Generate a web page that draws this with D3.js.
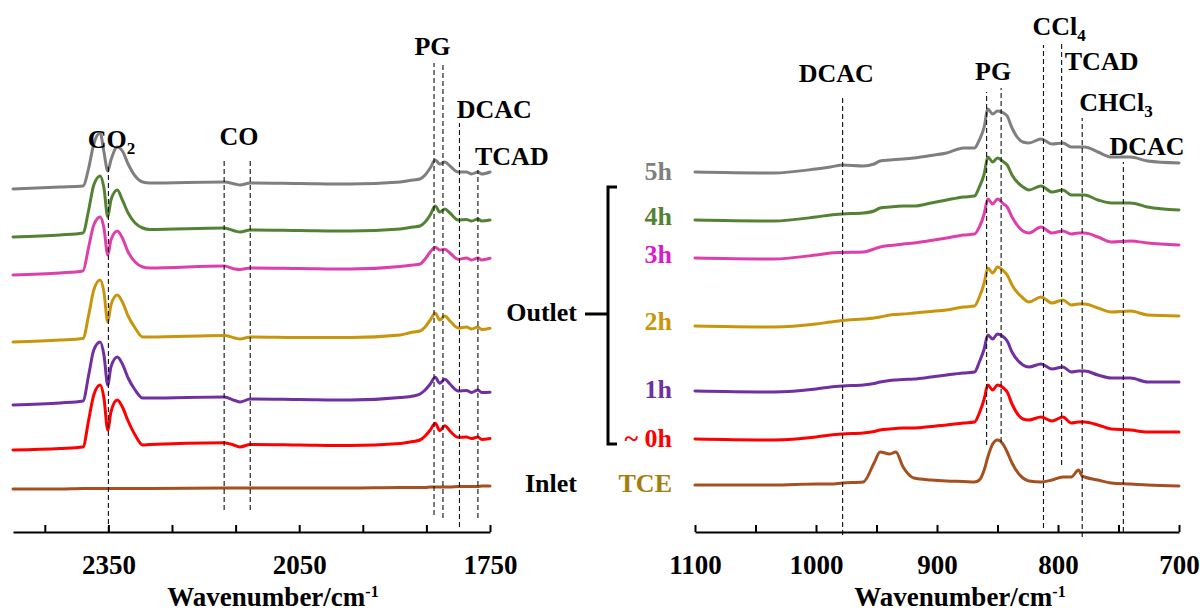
<!DOCTYPE html>
<html><head><meta charset="utf-8">
<script src="https://cdn.jsdelivr.net/npm/d3@7"></script>
<style>
body{margin:0;background:#fff}
svg{display:block}
text{font-family:"Times New Roman","Liberation Serif",serif;font-weight:bold}
</style>
</head><body>
<svg id="chart" width="1200" height="612"></svg>
<script>
// ---------- DATA ----------
// Left panel (2500–1750 cm-1), absorbance with stacking offsets (a.u.)
const leftWn = [2500,2426,2390,2381,2373,2363,2357,2351,2346,2336,2328,2319,2308,2296,2285,2168,2151,2143,2127,2049,1970,1891,1871,1860,1852,1844,1836,1829,1821,1813,1800,1787,1779,1769,1763,1750];
const left5h = [343,345,346,364,388,399,380,361,372,385,381,368,356,350,349,350,348,347,349,348.5,348,350,352,353,357,364,372,368,370,366,360,360,358,360,358,360];
const left4h = [295,297,299,322,347,356,344,315,332,342,332,319,309,304,302.5,304,301,300,302,301.5,301,303,305,306,310,317,326,320,323,319,312,312.5,311,313,311,312];
const left3h = [257,259,261,285,307,315,304,277,292,301,294,280,270,265,264,266,263,262.5,264,263.5,263,265.5,267,268,273,280,284.7,282,282.7,279,272.7,274,272,274,272,273.7];
const left2h = [190,192,193.5,217,242,252,240,210,227,237,230,216,204,195,195,196.5,194,193,195,194.5,194.5,197,200,201,205,212,218.7,212,216,211,204,205,203,205,202.5,203.7];
const left1h = [127,129,131,157,182,190,177,147,165,175,168,154,142,134,134,135,131.5,130,133,132.5,132,134.5,136,138,142,148,154.7,148.7,152.7,148,141,141.5,139.5,142,139.5,139.7];
const left0h = [82,83.5,85,112,137,147,134,102,120,132,125,111,97,87,87.5,89.3,86.5,85,87.5,87,86.5,88.5,90.5,92,96,102,108.7,101.3,106.3,101,94.7,95,93.5,95,92.5,93.5];
const leftInlet = [43,43,43.5,43.5,43.5,43.5,43.5,43.5,43.5,43.5,43.5,43.5,43.5,43.5,43.5,44,44,44,44,44,44,44.5,44.5,44.5,44.5,45,45,45,45,45,45.5,45.5,45.5,45.5,46,46];

// Right panel (1100–700 cm-1)
const rightWn = [1100,1035,1000,988,978,961,952,947,939,934,928,919,905,892,878,869,865,861,858,854,850,845,842,838,829,824,814,805,796,789,783,780,778,767,756,740,726,700];
const right5h = [360,359,363,365,367,366,368,371,372,372.5,373,374,376.5,379,384,384,392,405,423,418,421,419,416,404,390,389,393,388,389,385,385,385,385,380,375,375,371,369];
const right4h = [312,311,315,317,318,319,321,324,325,325.5,326,326,329,332,335,336,345,358,375,370,374,370,367,357,345,342,346,340,342,337,337,337,337,332,329,329,325,322];
const right3h = [274,273,277,279,279.5,280,283,285,286.5,287,288,289,291.5,294,297,298,305,318,333,328,333,328,325,315,301,299,305,299,301,298,299,299,299,295,290,291,289,287];
const right2h = [206,205,208,210,211.5,213,214,215,217,217.5,218,219,220.5,222,225,226,235,249,264,259,265,261,257,247,234,230,235,229,232,227,228,228,228,224,220,221,217,216];
const right1h = [141,140,143,145,146,147,148.5,150,151.5,152,152.5,153,155,157,159,160,170,183,197,193,198,195,191,180,167,165,168,163,165,160,161,161,161,157,154,154,150,150];
const right0h = [93,92,95,97,98,99,100.5,102,103,103.5,104,104,105.5,107,109,110,119,133,147,142,147,144,140,128,113,112,115,111,115,109,110,110,110,107,103,102,100,100];
const rightTCE = [47,47,48,48,49,50,69,80,78,80,65,54,52,51,50.5,50,52,62,75,88,92,87,80,69,54,51,50,52,55,55,62,56,55,52,49,48,47,46];

// Series names / colours
const seriesNames = ["5h","4h","3h","2h","1h","~ 0h","TCE"];
const lineColors  = ["#7f7f7f","#548235","#de3fab","#c8960c","#7030a0","#ff0000","#a5501e"];
const labelColors = ["#7f7f7f","#548235","#d81ccc","#c8960c","#7030a0","#ff0000","#a67c0c"];
const labelLevels = [352,307,269,202,134,85,40];   // label baselines (a.u.)

// Axis ticks
const leftTicks = [2450,2350,2250,2150,2050,1950,1850,1750];
const leftTickLabels = [2350,2050,1750];
const rightTicks = [1100,1050,1000,950,900,850,800,750,700];
const rightTickLabels = [1100,1000,900,800,700];

// Band marker lines: [wavenumber, from, to] in a.u.
const leftMarkers = [[2350,0,367],[2168,22,372],[2127,22,372],[1838,17,469],[1824,14,469],[1798,5,409],[1769,14,362]];
const rightMarkers = [[978,-3,434],[859,87,440],[847,90,444],[812,4,487],[797,67,490],[780,-5,414],[746,0,370]];

// Band annotations: [text, subscript, wavenumber, level, anchor]
const leftNotes = [["CO","2",2382.6,384,"start"],["CO","",2144.7,387,"middle"],["PG","",1840.4,477,"middle"],["DCAC","",1802.4,414,"start"],["TCAD","",1773.6,367,"start"]];
const rightNotes = [["DCAC","",983.2,450,"middle"],["PG","",853.6,452.5,"middle"],["CCl","4",821.1,497,"start"],["TCAD","",794.4,462,"start"],["CHCl","3",782.4,421.5,"start"],["DCAC","",757.5,377,"start"]];

// ---------- DRAW ----------
const svg = d3.select("#chart");
const y = d3.scaleLinear().domain([0,520]).range([532,12]);
const xL = d3.scaleLinear().domain([2500,1750]).range([13,490]);
const xR = d3.scaleLinear().domain([1100,700]).range([695,1179]);

function drawPanel(x, wn, seriesList, colors, markers, notes, ticks, tickLabels, titleX) {
  const g = svg.append("g");
  const line = d3.line().x(d=>x(d[0])).y(d=>y(d[1])).curve(d3.curveMonotoneX);
  seriesList.forEach((vals,i)=>{
    g.append("path").attr("d", line(d3.zip(wn, vals)))
      .attr("fill","none").attr("stroke",colors[i]).attr("stroke-width",3)
      .attr("stroke-linejoin","round").attr("stroke-linecap","round");
  });
  markers.forEach(m=>{
    g.append("line").attr("x1",x(m[0])).attr("x2",x(m[0]))
      .attr("y1",y(m[1])).attr("y2",y(m[2]))
      .attr("stroke","#111").attr("stroke-width",1.1).attr("stroke-dasharray","5,3");
  });
  notes.forEach(n=>{
    const t = g.append("text").attr("x",x(n[2])).attr("y",y(n[3]))
      .attr("text-anchor",n[4]).attr("font-size",26).attr("fill","#000");
    t.append("tspan").text(n[0]);
    if (n[1]) t.append("tspan").attr("font-size",17).attr("dy",6).text(n[1]);
  });
  const lab = new Set(tickLabels);
  const ax = g.append("g").attr("transform","translate(0,532)")
    .call(d3.axisBottom(x).tickValues(ticks).tickSize(-7).tickSizeOuter(0)
      .tickPadding(23).tickFormat(d=>lab.has(d)?d:""));
  ax.select(".domain").attr("stroke","#000").attr("stroke-width",2);
  ax.selectAll(".tick line").attr("stroke","#000").attr("stroke-width",2);
  ax.selectAll(".tick text").attr("font-size",27).attr("fill","#000")
    .attr("font-family",'"Times New Roman","Liberation Serif",serif').attr("font-weight","bold");
  const title = g.append("text").attr("x",titleX).attr("y",606).attr("text-anchor","middle")
    .attr("font-size",27).attr("fill","#000");
  title.append("tspan").text("Wavenumber/cm");
  title.append("tspan").attr("font-size",16).attr("dy",-9).text("-1");
}

drawPanel(xL, leftWn, [left5h,left4h,left3h,left2h,left1h,left0h,leftInlet], lineColors,
  leftMarkers, leftNotes, leftTicks, leftTickLabels, 273);
drawPanel(xR, rightWn, [right5h,right4h,right3h,right2h,right1h,right0h,rightTCE], lineColors,
  rightMarkers, rightNotes, rightTicks, rightTickLabels, 960);

// Series labels
seriesNames.forEach((s,i)=>{
  svg.append("text").attr("x",672).attr("y",y(labelLevels[i])).attr("text-anchor","end")
    .attr("font-size",26).attr("fill",labelColors[i]).text(s);
});
// Outlet / Inlet
svg.append("text").attr("x",577).attr("y",y(211)).attr("text-anchor","end").attr("font-size",26).attr("fill","#000").text("Outlet");
svg.append("text").attr("x",577).attr("y",y(40)).attr("text-anchor","end").attr("font-size",26).attr("fill","#000").text("Inlet");
// Bracket
svg.append("path").attr("d",`M617,${y(345)}H608V${y(88)}H617M608,${y(218)}H585`)
  .attr("fill","none").attr("stroke","#000").attr("stroke-width",3);
</script>
</body></html>
